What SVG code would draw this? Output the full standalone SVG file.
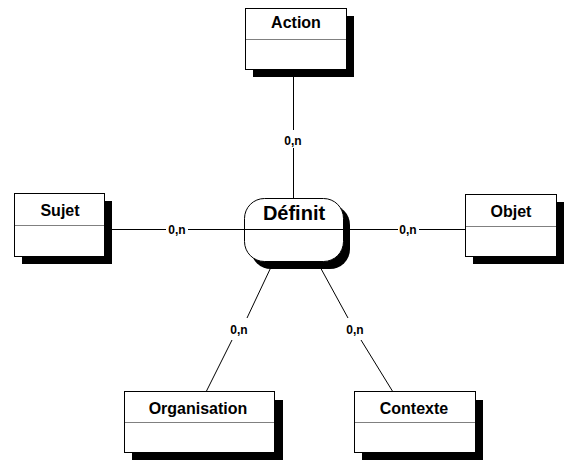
<svg xmlns="http://www.w3.org/2000/svg" width="565" height="460" viewBox="0 0 565 460">
<style>
.box{fill:#fff;stroke:#000;stroke-width:1}
.sh{fill:#000}
.div{stroke:#808080;stroke-width:1}
.t{font-family:"Liberation Sans",Arial,sans-serif;font-weight:bold;font-size:16px;text-anchor:middle;fill:#000}
.lab{font-family:"Liberation Sans",Arial,sans-serif;font-weight:bold;font-size:12px;text-anchor:middle;fill:#000}
.c{stroke:#000;stroke-width:1;fill:none}
</style>
<rect width="565" height="460" fill="#fff"/>
<g id="connectors">
<line class="c" x1="293.5" y1="69" x2="293.5" y2="130"/>
<line class="c" x1="293.5" y1="148" x2="293.5" y2="198"/>
<line class="c" x1="104" y1="229.5" x2="166" y2="229.5"/>
<line class="c" x1="188" y1="229.5" x2="244" y2="229.5"/>
<line class="c" x1="344" y1="229.5" x2="398" y2="229.5"/>
<line class="c" x1="419" y1="229.5" x2="466" y2="229.5"/>
<line class="c" x1="272" y1="265" x2="247" y2="318"/>
<line class="c" x1="232" y1="340" x2="206" y2="392"/>
<line class="c" x1="319" y1="265" x2="348" y2="318"/>
<line class="c" x1="361" y1="340" x2="393" y2="392"/>
<text class="lab" x="293" y="145">0,n</text>
<text class="lab" x="177" y="234">0,n</text>
<text class="lab" x="408" y="234">0,n</text>
<text class="lab" x="239" y="334">0,n</text>
<text class="lab" x="355" y="334">0,n</text>
</g>
<g id="action">
<rect class="sh" x="253" y="16" width="101" height="61"/>
<rect class="box" x="245.5" y="8.5" width="101" height="61"/>
<line class="div" x1="246" y1="39.5" x2="346" y2="39.5"/>
<text class="t" x="296" y="28">Action</text>
</g>
<g id="sujet">
<rect class="sh" x="22" y="201" width="90" height="63"/>
<rect class="box" x="14.5" y="193.5" width="90" height="63"/>
<line class="div" x1="15" y1="225.5" x2="104" y2="225.5"/>
<text class="t" x="60" y="216">Sujet</text>
</g>
<g id="objet">
<rect class="sh" x="473" y="202" width="91" height="62"/>
<rect class="box" x="465.5" y="194.5" width="91" height="62"/>
<line class="div" x1="466" y1="226.5" x2="556" y2="226.5"/>
<text class="t" x="511" y="217">Objet</text>
</g>
<g id="definit">
<rect class="sh" x="251" y="205" width="99" height="64" rx="20" ry="20"/>
<rect class="box" x="244.5" y="198.5" width="99" height="63" rx="20" ry="20"/>
<line class="c" x1="244.5" y1="229.5" x2="343.5" y2="229.5"/>
<text class="t" x="294" y="220" style="font-size:20px">Définit</text>
</g>
<g id="organisation">
<rect class="sh" x="132" y="400" width="151" height="61"/>
<rect class="box" x="124.5" y="391.5" width="150" height="61"/>
<line class="div" x1="125" y1="422.5" x2="274" y2="422.5"/>
<text class="t" x="198" y="414">Organisation</text>
</g>
<g id="contexte">
<rect class="sh" x="362" y="400" width="121" height="61"/>
<rect class="box" x="354.5" y="391.5" width="121" height="61"/>
<line class="div" x1="355" y1="422.5" x2="475" y2="422.5"/>
<text class="t" x="414" y="414">Contexte</text>
</g>
</svg>
